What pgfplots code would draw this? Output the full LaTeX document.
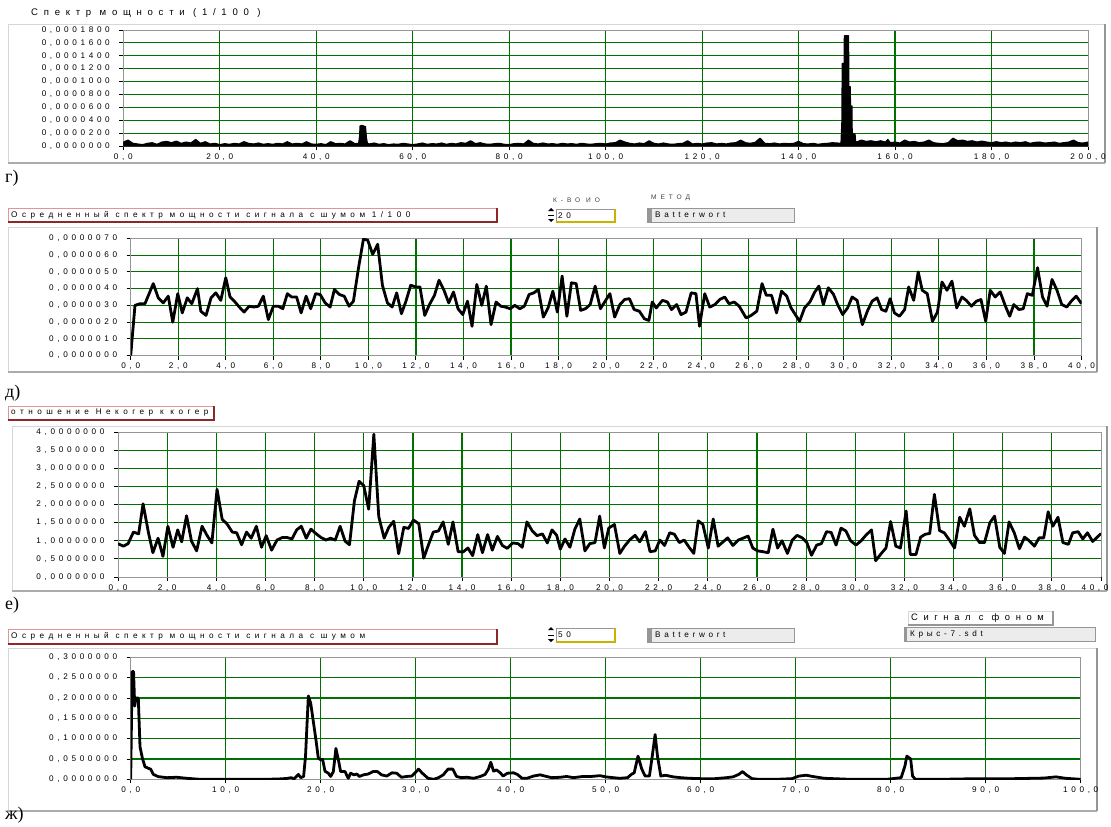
\documentclass[border=0pt]{standalone}
\usepackage{fontspec}
\setmainfont{Liberation Sans}
\newfontfamily\spaced[LetterSpace=45]{Liberation Sans}
\newfontfamily\spacedhead[LetterSpace=55]{Liberation Sans}
\newfontfamily\spacedbig[LetterSpace=60]{Liberation Sans}
\newfontfamily\serifl{Liberation Serif}
\usepackage{pgfplots}
\pgfplotsset{compat=1.18}
\definecolor{gridgreen}{RGB}{0,112,0}
\definecolor{boxgray}{RGB}{150,150,150}
\definecolor{framelight}{RGB}{215,215,215}
\definecolor{framedark}{RGB}{150,150,150}
\definecolor{pinkline}{RGB}{225,150,150}
\definecolor{darkred}{RGB}{140,40,40}
\definecolor{olive}{RGB}{200,180,0}
\definecolor{panelgray}{RGB}{236,236,236}
\newcommand\tickfont{\spaced\fontsize{8.2}{9}\selectfont}
\newcommand\headfont{\spacedhead\fontsize{8.2}{9}\selectfont}
\newcommand\smallfont{\spacedbig\fontsize{6.6}{7}\selectfont}

\pgfplotsset{
  panel/.style={
    scale only axis, anchor=south west,
    axis line style={draw=boxgray, line width=0.8bp},
    tick style={black, line width=0.9bp},
    tick align=outside, major tick length=4bp, minor tick length=0pt,
    tick pos=left,
    xminorgrids, yminorgrids,
    minor grid style={draw=gridgreen, line width=1.2bp},
    tick label style={font=\tickfont},
    yticklabel style={xshift=-6bp},
    /pgf/number format/assume math mode=true,
    scaled ticks=false,
    xticklabel style={/pgf/number format/fixed, /pgf/number format/fixed zerofill,
      /pgf/number format/precision=1, /pgf/number format/use comma},
  },
  curve/.style={black, line width=2.8bp, line join=round},
}

\begin{document}
\begin{tikzpicture}
\path[use as bounding box, fill=white] (0,0) rectangle (1111bp,-827bp);

% widget frames
\begin{scope}[x=1bp,y=-1bp]
  \foreach \xa/\ya/\xb/\yb in {8/24/1105/163, 8/227/1097/372, 12/426/1107/591, 8/648/1097/811}{
    \draw[framelight, line width=1bp] (\xa,\yb) -- (\xa,\ya) -- (\xb,\ya);
    \draw[boxgray!80, line width=1.2bp] (\xa,\yb) -- (\xb,\yb);
    \draw[framedark, line width=2bp] (\xb,\ya) -- (\xb,\yb);
  }
\end{scope}

% г) power spectrum
\begin{axis}[panel, at={(123.3bp,-146bp)}, width=964.7bp, height=116bp,
  xmin=0, xmax=200, ymin=0, ymax=0.00018,
  xtick={0,20,...,200}, minor xtick={20,40,...,180},
  ytick={0,0.00002,0.00004,0.00006,0.00008,0.0001,0.00012,0.00014,0.00016,0.00018},
  minor ytick={0.00002,0.00004,0.00006,0.00008,0.0001,0.00012,0.00014,0.00016},
  yticklabels={{0,0000000},{0,0000200},{0,0000400},{0,0000600},{0,0000800},{0,0001000},{0,0001200},{0,0001400},{0,0001600},{0,0001800}}]
\addplot[draw=black, line width=1.3bp, fill=black, line join=round] coordinates {
(0,6e-6)(1,9e-6)(2,4e-6)(3,3e-6)(4,2e-6)(5,4e-6)(6,5e-6)(7,2.5e-6)(8,6e-6)(9,7e-6)
(10,5e-6)(11,7.5e-6)(12,4e-6)(13,6e-6)(14,4.5e-6)(15,10e-6)(16,4e-6)(17,6.5e-6)(18,3e-6)(19,4e-6)
(20,2e-6)(21,3.5e-6)(22,2.5e-6)(23,4e-6)(24,3e-6)(25,6.5e-6)(26,4e-6)(27,3e-6)(28,4.5e-6)(29,2.5e-6)
(30,3.5e-6)(31,2.5e-6)(32,4e-6)(33,3e-6)(34,6.5e-6)(35,3e-6)(36,4e-6)(37,3e-6)(38,6.5e-6)(39,3e-6)
(40,2.5e-6)(41,3.5e-6)(42,2e-6)(43,6.5e-6)(44,3.5e-6)(45,4e-6)(46,3e-6)(47,8e-6)(48,3.5e-6)
(48.8,4e-6)(49.0,15e-6)(49.1,31e-6)(49.5,32e-6)(49.8,31e-6)(50.2,30e-6)(50.4,12e-6)(50.6,4e-6)
(51,3e-6)(52,4.5e-6)(53,2.5e-6)(54,3.5e-6)(55,2e-6)(56,3e-6)(57,2.5e-6)(58,4e-6)(59,3e-6)
(60,2e-6)(61,3e-6)(62,4.5e-6)(63,2.5e-6)(64,3.5e-6)(65,3e-6)(66,4.5e-6)(67,2.5e-6)(68,4e-6)(69,3e-6)
(70,5e-6)(71,4e-6)(72,8e-6)(73,3.5e-6)(74,5e-6)(75,3e-6)(76,2.5e-6)(77,3.5e-6)(78,4e-6)(79,2.5e-6)
(80,2e-6)(81,3.5e-6)(82,4e-6)(83,3e-6)(84,9e-6)(85,4e-6)(86,3e-6)(87,4.5e-6)(88,3e-6)(89,3.5e-6)
(90,2.5e-6)(91,4e-6)(92,3e-6)(93,3.5e-6)(94,2.5e-6)(95,4e-6)(96,3e-6)(97,2.5e-6)(98,3.5e-6)(99,4e-6)
(100,3e-6)(101,4.5e-6)(102,5e-6)(103,9e-6)(104,6e-6)(105,4e-6)(106,3e-6)(107,4.5e-6)(108,3.5e-6)(109,8e-6)
(110,4e-6)(111,3e-6)(112,4.5e-6)(113,3e-6)(114,2.5e-6)(115,3.5e-6)(116,4e-6)(117,8e-6)(118,3e-6)(119,4e-6)
(120,3e-6)(121,4.5e-6)(122,5e-6)(123,3e-6)(124,4e-6)(125,3e-6)(126,4.5e-6)(127,5e-6)(128,9e-6)(129,5e-6)
(130,4e-6)(131,5.5e-6)(132,12e-6)(133,4e-6)(134,3.5e-6)(135,4.5e-6)(136,3e-6)(137,4e-6)(138,3.5e-6)(139,4e-6)
(140,7e-6)(141,3.5e-6)(142,3e-6)(143,4e-6)(144,2.5e-6)(145,3.5e-6)(146,4e-6)(147,5e-6)(148,4.5e-6)
(148.8,4e-6)(149.0,40e-6)(149.05,128e-6)(149.45,128e-6)(149.5,171e-6)(150.35,171e-6)(150.4,92e-6)
(150.7,92e-6)(150.75,62e-6)(151.05,62e-6)(151.1,20e-6)(151.7,18e-6)(151.8,7e-6)
(152,6e-6)(153,9e-6)(154,7e-6)(155,8e-6)(156,6.5e-6)(157,8e-6)(158,6e-6)(158.5,10e-6)(159,5e-6)
(160,6e-6)(161,4.5e-6)(162,9e-6)(163,6e-6)(164,7e-6)(165,5e-6)(166,6e-6)(167,9e-6)(168,5e-6)(169,4e-6)
(170,3.5e-6)(171,5e-6)(172,12e-6)(173,8e-6)(174,9e-6)(175,7e-6)(176,8e-6)(177,6e-6)(178,7.5e-6)(179,6e-6)
(180,5e-6)(181,6.5e-6)(182,5e-6)(183,6e-6)(184,4.5e-6)(185,6e-6)(186,5e-6)(187,6.5e-6)(188,4e-6)(189,5.5e-6)
(190,6e-6)(191,4.5e-6)(192,5e-6)(193,6e-6)(194,4e-6)(195,5e-6)(196,6e-6)(197,9e-6)(198,5e-6)(199,4.5e-6)
(200,6e-6)} \closedcycle;
\end{axis}

% д) averaged spectrum 1/100
\begin{axis}[panel, at={(130.7bp,-355.6bp)}, width=950.8bp, height=117.2bp,
  xmin=0, xmax=40, ymin=0, ymax=0.000007,
  xtick={0,2,...,40}, minor xtick={2,4,...,38},
  ytick={0,0.000001,0.000002,0.000003,0.000004,0.000005,0.000006,0.000007},
  minor ytick={0.000001,0.000002,0.000003,0.000004,0.000005,0.000006},
  yticklabels={{0,0000000},{0,0000010},{0,0000020},{0,0000030},{0,0000040},{0,0000050},{0,0000060},{0,0000070}}]
\addplot[curve] coordinates {
(0,0)(0.18,3.0e-6)(0.39,3.1e-6)(0.6,3.1e-6)(0.95,4.3e-6)(1.16,3.45e-6)(1.37,3.15e-6)(1.58,3.55e-6)(1.77,2.0e-6)
(1.98,3.7e-6)(2.17,2.55e-6)(2.38,3.45e-6)(2.57,3.1e-6)(2.81,4.0e-6)(2.95,2.65e-6)(3.17,2.4e-6)(3.38,3.45e-6)
(3.58,3.75e-6)(3.79,3.3e-6)(4.0,4.65e-6)(4.18,3.5e-6)(4.39,3.2e-6)(4.57,2.9e-6)(4.77,2.6e-6)(4.98,2.95e-6)
(5.19,2.9e-6)(5.37,2.95e-6)(5.58,3.55e-6)(5.79,2.15e-6)(6.0,2.95e-6)(6.21,2.95e-6)(6.4,2.8e-6)(6.59,3.7e-6)
(6.77,3.5e-6)(6.98,3.5e-6)(7.17,2.55e-6)(7.38,3.55e-6)(7.57,2.8e-6)(7.78,3.7e-6)(7.97,3.65e-6)(8.18,3.15e-6)
(8.39,2.9e-6)(8.57,3.95e-6)(8.78,3.65e-6)(8.98,3.55e-6)(9.19,2.95e-6)(9.37,3.25e-6)(9.58,5.2e-6)(9.79,6.95e-6)
(9.97,6.9e-6)(10.18,6.05e-6)(10.39,6.65e-6)(10.59,4.2e-6)(10.8,3.15e-6)(11.0,2.9e-6)(11.19,3.75e-6)(11.39,2.5e-6)
(11.58,3.25e-6)(11.78,4.2e-6)(11.99,4.1e-6)(12.17,4.1e-6)(12.37,2.4e-6)(12.57,3.05e-6)(12.78,3.6e-6)(12.97,4.5e-6)
(13.18,3.9e-6)(13.38,3.15e-6)(13.58,3.8e-6)(13.77,2.8e-6)(13.97,2.45e-6)(14.17,3.25e-6)(14.36,1.75e-6)(14.56,4.25e-6)
(14.77,3.0e-6)(14.96,4.15e-6)(15.16,1.85e-6)(15.37,3.2e-6)(15.57,2.95e-6)(15.76,2.9e-6)(15.96,2.8e-6)(16.16,3.0e-6)
(16.37,2.8e-6)(16.56,2.95e-6)(16.76,3.65e-6)(16.96,3.75e-6)(17.15,3.95e-6)(17.36,2.3e-6)(17.56,2.85e-6)(17.76,3.85e-6)
(17.95,2.6e-6)(18.15,4.75e-6)(18.35,2.35e-6)(18.54,4.35e-6)(18.74,4.3e-6)(18.93,2.7e-6)(19.13,2.8e-6)(19.33,3.05e-6)
(19.54,4.15e-6)(19.76,2.8e-6)(20.16,3.7e-6)(20.36,2.3e-6)(20.58,3.05e-6)(20.78,3.35e-6)(20.98,3.4e-6)(21.18,2.75e-6)
(21.4,2.65e-6)(21.61,2.2e-6)(21.8,2.1e-6)(21.94,3.2e-6)(22.11,2.85e-6)(22.37,3.3e-6)(22.58,3.2e-6)(22.75,2.75e-6)
(22.97,3.05e-6)(23.15,2.45e-6)(23.36,2.6e-6)(23.58,3.75e-6)(23.78,3.7e-6)(23.93,1.75e-6)(24.15,3.7e-6)(24.36,2.9e-6)
(24.58,3.05e-6)(24.78,3.35e-6)(24.99,3.5e-6)(25.17,3.1e-6)(25.39,3.2e-6)(25.6,2.95e-6)(25.89,2.25e-6)(26.1,2.4e-6)
(26.34,2.65e-6)(26.56,4.3e-6)(26.74,3.6e-6)(26.96,3.6e-6)(27.17,2.55e-6)(27.38,3.85e-6)(27.6,3.55e-6)(27.78,2.85e-6)
(28.14,2.05e-6)(28.35,2.85e-6)(28.57,3.2e-6)(28.78,3.8e-6)(28.95,4.15e-6)(29.14,3.05e-6)(29.35,4.05e-6)(29.57,3.65e-6)
(29.74,3.05e-6)(29.95,2.45e-6)(30.16,2.85e-6)(30.35,3.5e-6)(30.56,3.3e-6)(30.78,1.85e-6)(30.99,2.65e-6)(31.19,3.25e-6)
(31.4,3.45e-6)(31.59,2.75e-6)(31.77,2.65e-6)(31.95,3.4e-6)(32.13,2.55e-6)(32.34,2.35e-6)(32.56,2.75e-6)(32.73,4.1e-6)
(32.94,3.3e-6)(33.13,5.0e-6)(33.3,3.9e-6)(33.51,3.7e-6)(33.73,2.05e-6)(33.94,2.6e-6)(34.13,4.4e-6)(34.34,3.9e-6)
(34.55,4.45e-6)(34.75,2.85e-6)(34.97,3.5e-6)(35.15,3.3e-6)(35.37,2.95e-6)(35.58,3.25e-6)(35.77,3.35e-6)(35.97,2.05e-6)
(36.16,3.9e-6)(36.37,3.5e-6)(36.58,3.8e-6)(36.8,2.95e-6)(36.98,2.35e-6)(37.15,3.05e-6)(37.37,2.75e-6)(37.55,2.8e-6)
(37.72,3.7e-6)(37.93,3.6e-6)(38.15,5.25e-6)(38.36,3.5e-6)(38.55,2.95e-6)(38.76,4.55e-6)(38.97,3.9e-6)(39.17,3.05e-6)
(39.38,2.9e-6)(39.57,3.25e-6)(39.78,3.55e-6)(40.0,3.1e-6)};
\end{axis}

% е) ratio incoherent / coherent
\begin{axis}[panel, at={(118bp,-577bp)}, width=983bp, height=145bp,
  xmin=0, xmax=40, ymin=0, ymax=4,
  xtick={0,2,...,38}, minor xtick={2,4,...,38},
  extra x ticks={40},
  extra x tick style={xticklabel style={xshift=-6bp}},
  ytick={0,0.5,...,4}, minor ytick={0.5,1,...,3.5},
  yticklabels={{0,0000000},{0,5000000},{1,0000000},{1,5000000},{2,0000000},{2,5000000},{3,0000000},{3,5000000},{4,0000000}}]
\addplot[curve] coordinates {
(0,0.92)(0.22,0.85)(0.41,0.92)(0.63,1.24)(0.84,1.19)(1.02,2.02)(1.24,1.22)(1.42,0.67)(1.63,1.07)(1.83,0.57)
(2.03,1.4)(2.24,0.82)(2.43,1.3)(2.59,0.97)(2.79,1.69)(2.99,0.99)(3.2,0.72)(3.42,1.4)(3.63,1.14)(3.82,0.94)
(4.03,2.42)(4.24,1.59)(4.43,1.47)(4.65,1.24)(4.83,1.22)(5.03,0.89)(5.23,1.24)(5.42,1.07)(5.63,1.4)(5.84,0.82)
(6.03,1.14)(6.25,0.74)(6.47,1.02)(6.69,1.09)(6.88,1.09)(7.08,1.05)(7.27,1.3)(7.46,1.4)(7.66,1.07)(7.85,1.32)
(8.05,1.2)(8.26,1.09)(8.46,1.02)(8.65,1.07)(8.84,1.02)(9.04,1.4)(9.24,0.99)(9.42,0.89)(9.62,2.1)(9.81,2.64)
(10.0,2.52)(10.2,1.87)(10.41,3.94)(10.61,1.67)(10.83,1.07)(11.02,1.37)(11.22,1.54)(11.42,0.64)(11.63,1.37)(11.82,1.34)
(12.02,1.57)(12.24,1.47)(12.44,0.52)(12.65,0.92)(12.83,1.24)(13.04,1.27)(13.23,1.52)(13.44,0.9)(13.63,1.52)(13.84,0.7)
(14.04,0.69)(14.24,0.8)(14.43,0.59)(14.64,1.17)(14.83,0.67)(15.04,1.17)(15.23,0.74)(15.44,1.12)(15.64,0.87)(15.84,0.79)
(16.06,0.94)(16.28,0.92)(16.45,0.82)(16.64,1.52)(16.86,1.27)(17.05,1.14)(17.27,1.19)(17.47,0.94)(17.66,1.3)(17.85,1.15)
(18.0,0.77)(18.19,1.05)(18.39,0.82)(18.59,1.32)(18.79,1.6)(19.0,0.72)(19.2,0.92)(19.41,0.95)(19.6,1.68)(19.79,0.8)
(19.97,1.35)(20.2,1.45)(20.42,0.65)(20.61,0.85)(20.83,1.03)(21.04,1.15)(21.23,0.97)(21.46,1.25)(21.65,0.7)(21.86,0.72)
(22.05,1.02)(22.24,0.87)(22.45,1.22)(22.64,1.18)(22.84,0.95)(23.04,1.02)(23.24,0.82)(23.43,0.65)(23.61,1.55)(23.8,1.45)
(24.02,0.8)(24.22,1.6)(24.42,0.85)(24.62,0.97)(24.81,1.08)(25.02,0.87)(25.24,1.02)(25.43,1.07)(25.64,1.13)(25.83,0.8)
(26.03,0.72)(26.23,0.7)(26.46,0.67)(26.65,1.32)(26.84,0.8)(27.02,1.0)(27.24,0.65)(27.44,1.02)(27.63,1.15)(27.84,1.08)
(28.03,0.95)(28.22,0.6)(28.43,0.88)(28.62,0.92)(28.83,1.25)(29.02,1.23)(29.22,0.88)(29.42,1.35)(29.62,1.27)(29.81,1.0)
(30.03,0.88)(30.24,1.0)(30.43,1.15)(30.66,1.3)(30.83,0.45)(31.06,0.65)(31.25,0.8)(31.44,1.53)(31.65,0.85)(31.84,0.8)
(32.07,1.82)(32.24,0.62)(32.47,0.62)(32.66,1.1)(32.85,1.18)(33.03,1.2)(33.22,2.28)(33.43,1.28)(33.62,1.22)(33.85,1.0)
(34.04,0.8)(34.25,1.65)(34.44,1.4)(34.66,1.88)(34.85,1.15)(35.06,0.95)(35.26,0.95)(35.48,1.5)(35.67,1.68)(35.88,0.82)
(36.07,0.65)(36.26,1.52)(36.47,1.22)(36.68,0.78)(36.89,1.1)(37.08,1.0)(37.29,0.85)(37.48,1.08)(37.67,1.08)(37.85,1.8)
(38.04,1.4)(38.25,1.65)(38.45,0.95)(38.67,0.9)(38.85,1.22)(39.07,1.25)(39.26,1.05)(39.45,1.22)(39.66,0.98)(39.85,1.1)
(40.0,1.2)};
\end{axis}

% ж) averaged spectrum with noise
\begin{axis}[panel, at={(130.7bp,-779.3bp)}, width=950bp, height=122bp,
  xmin=0, xmax=100, ymin=0, ymax=0.3,
  xtick={0,10,...,100}, minor xtick={10,20,...,90},
  ytick={0,0.05,...,0.3}, minor ytick={0.05,0.1,...,0.25},
  yticklabels={{0,0000000},{0,0500000},{0,1000000},{0,1500000},{0,2000000},{0,2500000},{0,3000000}}]
\addplot[curve] coordinates {
(0,0)(0.15,0.265)(0.3,0.265)(0.42,0.18)(0.56,0.2)(0.8,0.2)(0.98,0.08)(1.23,0.052)(1.5,0.031)(1.86,0.027)
(2.1,0.025)(2.39,0.012)(2.9,0.0066)(3.8,0.004)(4.84,0.005)(5.9,0.0025)(7.3,0)(10.8,0)(14.3,0)(15.7,0.001)
(16.4,0.002)(16.9,0.004)(17.2,0.001)(17.65,0.012)(17.9,0.004)(18.2,0.007)(18.4,0.056)(18.7,0.205)(18.95,0.187)(19.2,0.146)
(19.5,0.097)(19.75,0.052)(20.0,0.048)(20.2,0.049)(20.45,0.02)(20.8,0.015)(21.05,0.007)(21.33,0.019)(21.6,0.076)(21.86,0.048)
(22.1,0.019)(22.56,0.019)(22.9,0.0025)(23.15,0.015)(23.5,0.011)(23.8,0.013)(24.07,0.007)(24.5,0.011)(25.0,0.013)(25.5,0.019)
(25.97,0.019)(26.4,0.011)(26.95,0.008)(27.5,0.016)(28.0,0.015)(28.5,0.005)(29.05,0.007)(29.6,0.008)(30.3,0.025)(30.7,0.015)
(31.3,0.0025)(31.9,0)(32.4,0.004)(32.9,0.011)(33.4,0.025)(33.9,0.025)(34.3,0.007)(34.8,0.004)(35.4,0.005)(36.1,0.0025)
(36.8,0.007)(37.3,0.012)(37.65,0.025)(37.9,0.042)(38.2,0.02)(38.5,0.023)(38.9,0.016)(39.2,0.008)(39.65,0.015)(40.3,0.016)
(40.7,0.012)(41.2,0.0025)(41.7,0.0025)(42.4,0.008)(43.1,0.011)(43.6,0.008)(44.3,0.004)(45.2,0.005)(45.9,0.007)(46.6,0.004)
(47.6,0.007)(48.5,0.007)(49.4,0.009)(50.0,0.006)(50.8,0.004)(51.5,0.0025)(52.3,0.004)(52.7,0.012)(53.0,0.016)(53.4,0.057)
(53.8,0.025)(54.15,0.008)(54.6,0.008)(54.9,0.057)(55.2,0.11)(55.45,0.057)(55.8,0.008)(56.3,0.01)(57.1,0.006)(57.9,0.004)
(58.8,0.0025)(60.0,0.0016)(61.5,0.0016)(62.7,0.004)(63.4,0.006)(64.0,0.012)(64.4,0.019)(64.8,0.011)(65.4,0.0016)(66.1,0)
(68.0,0)(69.6,0.0016)(70.35,0.008)(71.1,0.01)(71.9,0.0065)(73.0,0.0025)(75.7,0)(79.6,0)(81.1,0.004)(81.5,0.033)
(81.7,0.057)(82.1,0.05)(82.3,0.008)(82.6,0)(85.3,0)(89.2,0.0016)(93.0,0.0016)(96.1,0.003)(97.4,0.006)(98.4,0.0025)
(100,0)};
\end{axis}

% captions, header boxes and controls
\begin{scope}[x=1bp,y=-1bp]
  \node[anchor=west, inner sep=0, font=\spacedbig\fontsize{9.6}{10}\selectfont] at (31,13) {Спектр мощности (1/100 )};
  \foreach \yy/\lab in {178/г), 393/д), 605/е), 815/ж)}{
    \node[anchor=west, inner sep=0, font=\serifl\fontsize{18}{20}\selectfont] at (5,\yy) {\lab};
  }
  % red-framed titles
  \foreach \xa/\ya/\xb/\yb/\txt in {8/208/497/222/{Осредненный спектр мощности сигнала с шумом 1/100},
      8/406/214/420/{отношение Некогер к когер},
      8/629/497/644/{Осредненный спектр мощности сигнала с шумом}}{
    \fill[white] (\xa,\ya) rectangle (\xb,\yb);
    \draw[pinkline, line width=1bp] (\xa,\yb) -- (\xa,\ya) -- (\xb,\ya);
    \draw[darkred, line width=1.3bp] (\xb,\ya) -- (\xb,\yb) -- (\xa,\yb);
    \node[anchor=west, inner sep=0, font=\headfont] at (\xa+3,{(\ya+\yb)/2}) {\txt};
  }
  % spinner boxes
  \foreach \ya/\yb/\val in {209/222/20, 628/642/50}{
    \fill[black] (548,\ya+2) -- (554,\ya+2) -- (551,\ya-1) -- cycle;
    \fill[black] (548,\yb-3) -- (554,\yb-3) -- (551,\yb) -- cycle;
    \draw[black, line width=0.6bp] (548,{(\ya+\yb)/2}) -- (554,{(\ya+\yb)/2});
    \fill[white] (556,\ya) rectangle (615,\yb);
    \draw[boxgray, line width=1bp] (556,\yb) -- (556,\ya) -- (615,\ya);
    \draw[olive, line width=1.5bp] (615,\ya) -- (615,\yb) -- (556,\yb);
    \node[anchor=west, inner sep=0, font=\tickfont] at (558,{(\ya+\yb)/2}) {\val};
  }
  % method boxes
  \foreach \ya/\yb in {208/222, 628/642}{
    \fill[panelgray] (647,\ya) rectangle (794,\yb);
    \draw[boxgray, line width=1bp] (647,\ya) rectangle (794,\yb);
    \fill[boxgray] (647,\ya) rectangle (652,\yb);
    \node[anchor=west, inner sep=0, font=\tickfont] at (655,{(\ya+\yb)/2}) {Batterwort};
  }
  \node[anchor=west, inner sep=0, font=\smallfont, text=black!75] at (553,200) {К-ВО ИО};
  \node[anchor=west, inner sep=0, font=\smallfont, text=black!75] at (651,198) {МЕТОД};
  % signal file boxes
  \fill[white] (908,611) rectangle (1053,625);
  \draw[framelight, line width=1bp] (908,625) -- (908,611) -- (1053,611);
  \draw[boxgray, line width=1.2bp] (1053,611) -- (1053,625) -- (908,625);
  \node[anchor=west, inner sep=0, font=\spacedbig\fontsize{9.4}{10}\selectfont] at (911,618) {Сигнал с фоном};
  \fill[panelgray] (904,627) rectangle (1095,641);
  \draw[boxgray, line width=1bp] (904,627) rectangle (1095,641);
  \fill[boxgray] (904,627) rectangle (907,641);
  \node[anchor=west, inner sep=0, font=\tickfont] at (910,634) {Крыс-7.sdt};
\end{scope}
\end{tikzpicture}
\end{document}
